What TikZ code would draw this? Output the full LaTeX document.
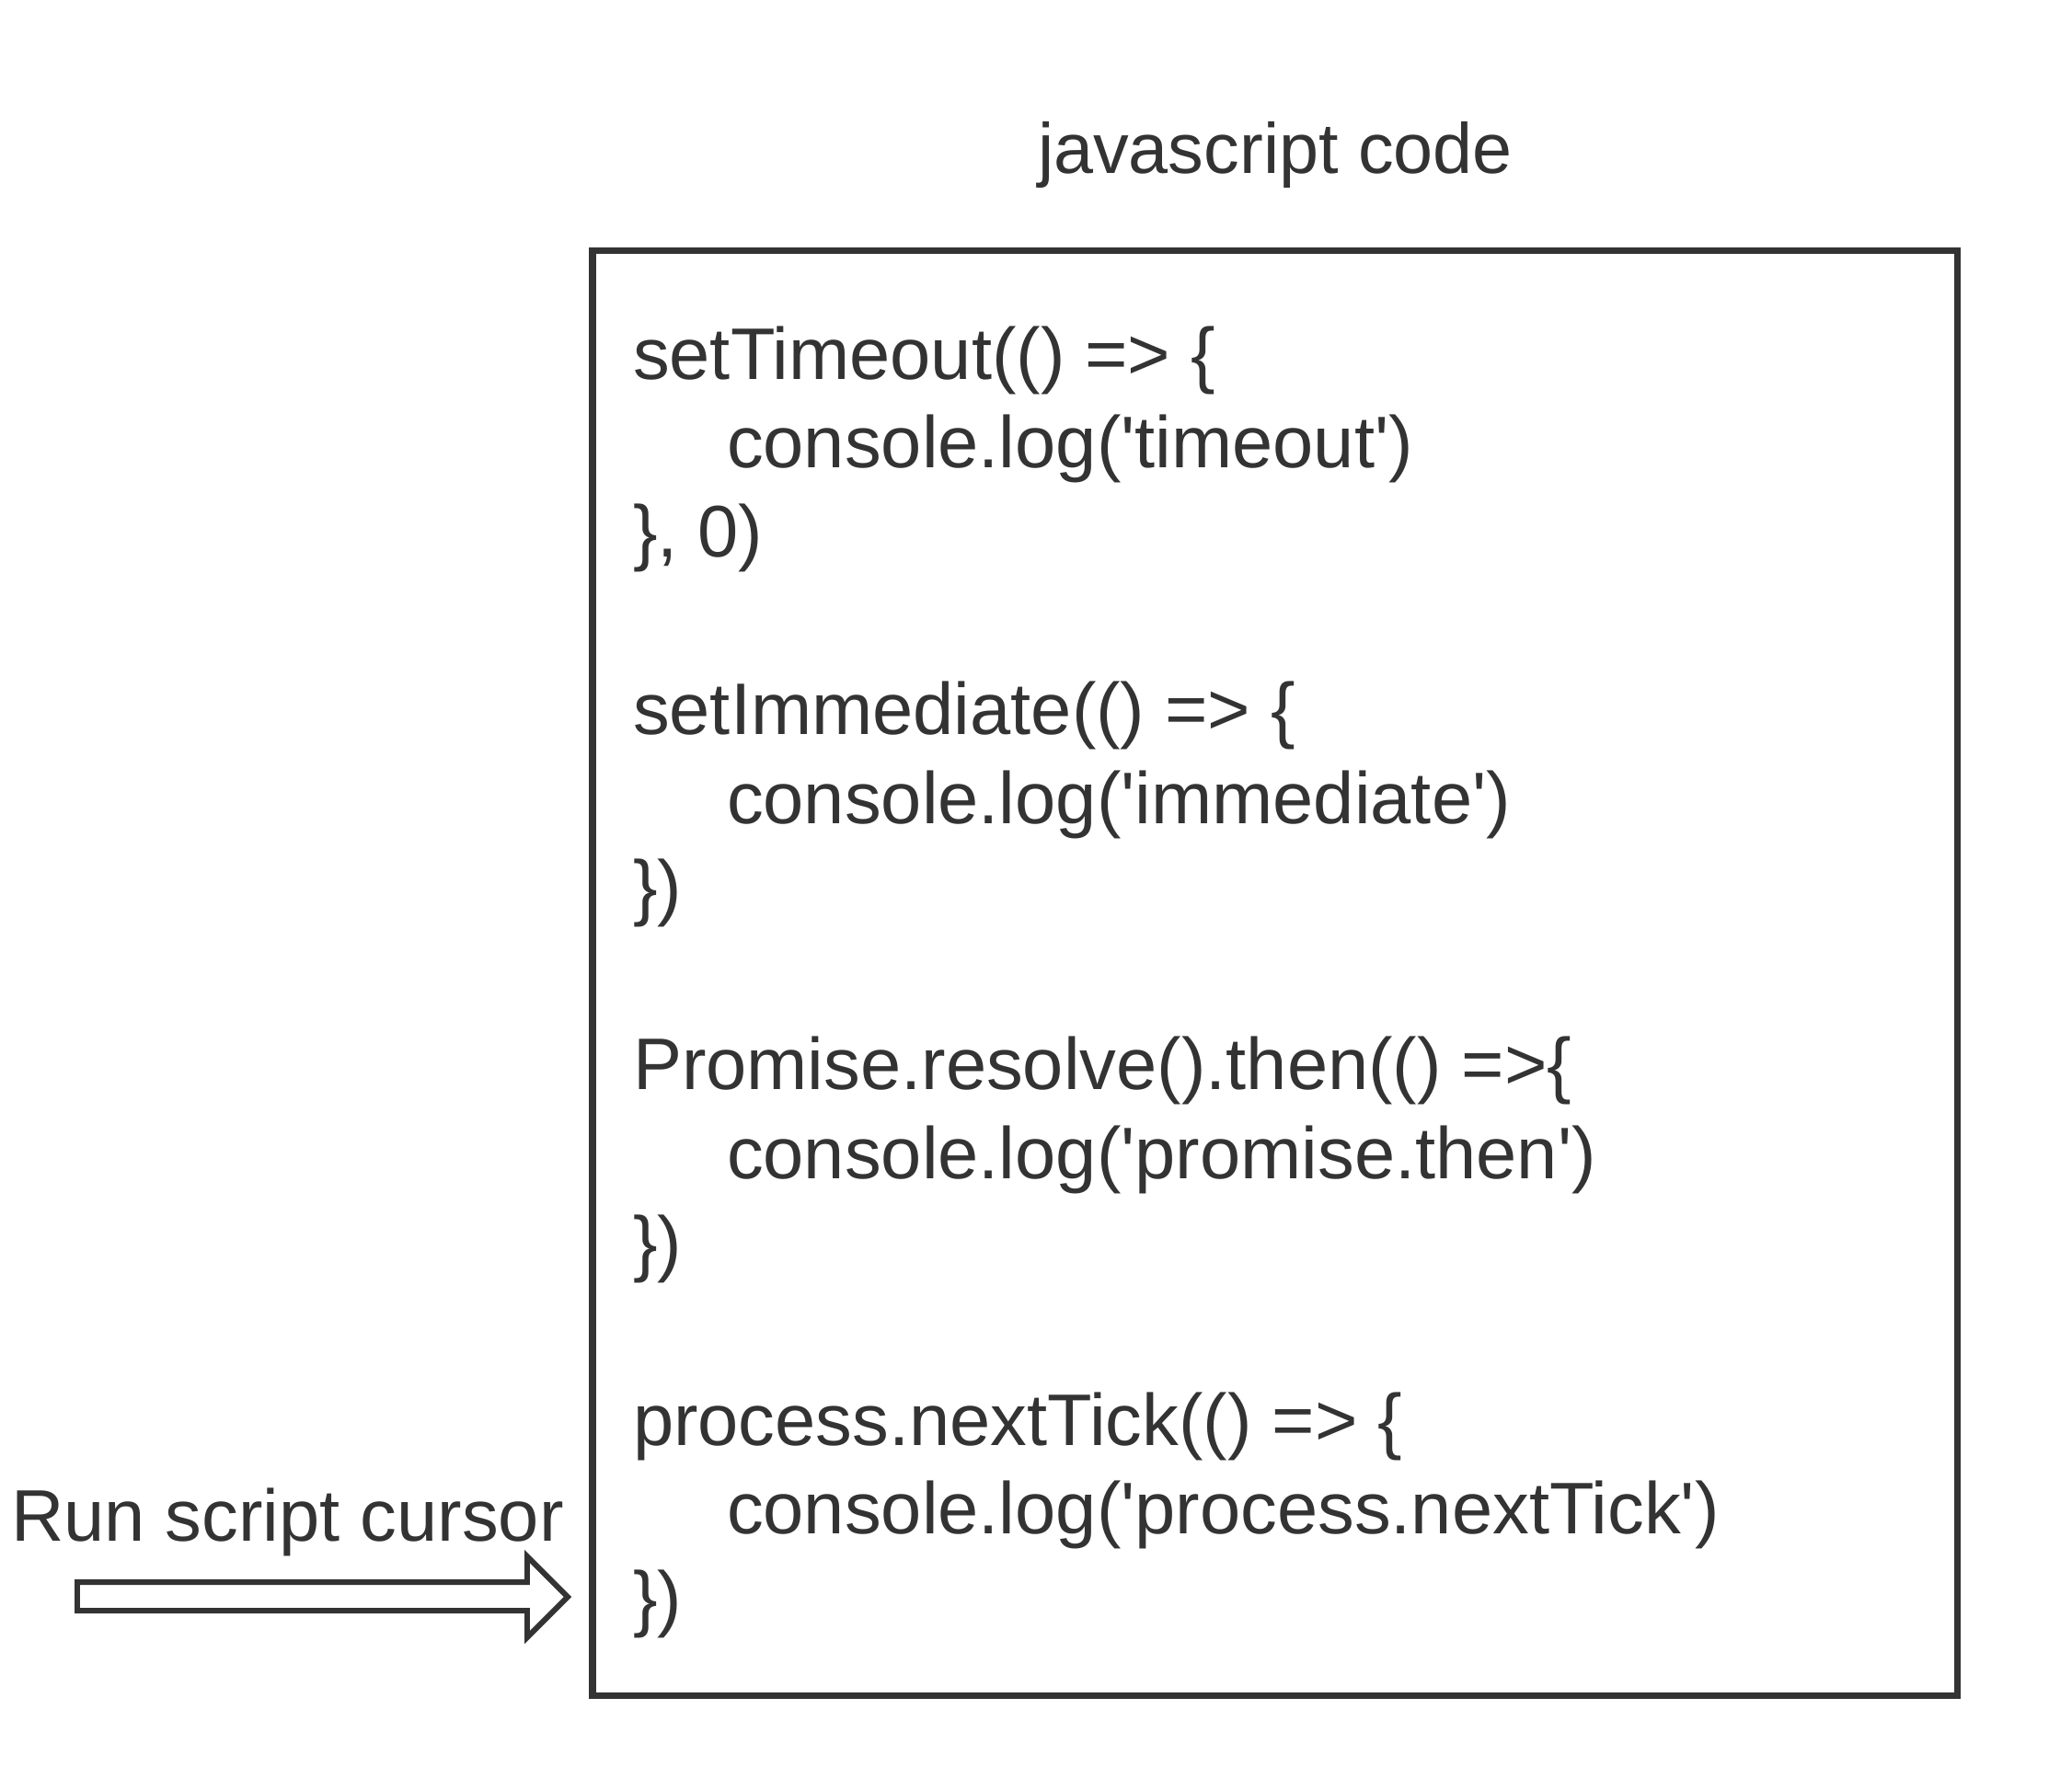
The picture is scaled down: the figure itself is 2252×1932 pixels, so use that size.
\documentclass[tikz,border=0pt]{standalone}
\usepackage{fontspec}
\newfontfamily\jsfont{Liberation Sans}
\definecolor{ink}{HTML}{333333}
\begin{document}
\begin{tikzpicture}[x=0.01cm,y=-0.01cm,
  txt/.style={inner sep=0pt,outer sep=0pt,anchor=base west,text=ink,font=\jsfont\fontsize{22.6}{27}\selectfont},
  boxframe/.style={draw=ink,line width=2pt,inner sep=0pt,outer sep=0pt},
  blockarrow/.style={draw=ink,line width=1.7pt,fill=white,line join=miter}]
\useasboundingbox (0,0) rectangle (2252,1932);
% title
\node[txt,anchor=base,font=\jsfont\fontsize{22}{26}\selectfont] (title) at (1386,188) {javascript code};
% frame
\node[boxframe,minimum width=14.83cm,minimum height=15.71cm,anchor=north west] (codebox) at (644,272) {};
% code lines
\def\lh{96.6}
\node[txt] (l1)  at (688,412) {setTimeout(() => \{};
\node[txt] (l2)  at (790,412+1*\lh) {console.log('timeout')};
\node[txt] (l3)  at (688,412+2*\lh) {\}, 0)};
\node[txt] (l4)  at (688,412+4*\lh) {setImmediate(() => \{};
\node[txt] (l5)  at (790,412+5*\lh) {console.log('immediate')};
\node[txt] (l6)  at (688,412+6*\lh) {\})};
\node[txt] (l7)  at (688,412+8*\lh) {Promise.resolve().then(() =>\{};
\node[txt] (l8)  at (790,412+9*\lh) {console.log('promise.then')};
\node[txt] (l9)  at (688,412+10*\lh) {\})};
\node[txt] (l10) at (688,412+12*\lh) {process.nextTick(() => \{};
\node[txt] (l11) at (790,412+13*\lh) {console.log('process.nextTick')};
\node[txt] (l12) at (688,412+14*\lh) {\})};
% cursor label
\node[txt] (cursor) at (12,1675) {Run script cursor};
% block arrow
\coordinate (tip) at (617,1736);
\draw[blockarrow] (84,1720) -- (573,1720) -- (573,1692) -- (tip) -- (573,1780) -- (573,1751) -- (84,1751) -- cycle;
\end{tikzpicture}
\end{document}
